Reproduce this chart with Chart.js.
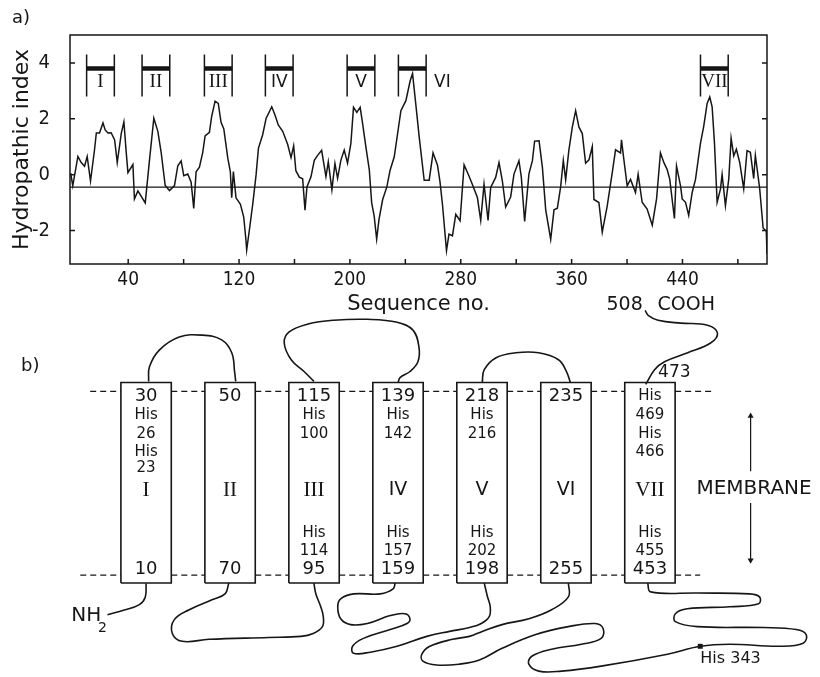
<!DOCTYPE html>
<html>
<head>
<meta charset="utf-8">
<script src="https://cdn.jsdelivr.net/npm/chart.js@4.4.1/dist/chart.umd.min.js"></script>
<style>
  html, body { margin: 0; padding: 0; background: #fff; }
  #wrap { position: relative; width: 820px; height: 677px; }
  #wrap canvas { position: absolute; left: 0; top: 0; }
</style>
</head>
<body>
<div id="wrap">
  <canvas id="plot" width="820" height="677"></canvas>
  <canvas id="model" width="820" height="677"></canvas>
</div>
<script>
// ---- a) hydropathy profile ----
var seqNo = [
  -1.5, 0, 3.7, 6.1, 8.5, 10.4, 12.8, 15.7, 17, 19.3,
  21.8, 23.4, 25.4, 27.7, 30.2, 32.1, 35, 36.9, 38.6, 39.8,
  43.4, 44.5, 47, 52.3, 55.4, 58.5, 61.4, 63.8, 66.7, 69.8,
  73.4, 75.8, 78.2, 80.1, 83, 85.4, 87.3, 89, 91.4, 93.8,
  95.5, 98.6, 100.3, 102.7, 105, 107, 109, 111.9, 113.7, 114.7,
  115.9, 117.8, 121, 123.4, 125, 125.5, 127.4, 129.9, 132.3, 134,
  137, 139.5, 143.6, 146, 148.3, 151.5, 155.1, 157.5, 159.4, 161,
  163.5, 165.9, 167.6, 169, 171.9, 174.3, 176.7, 179.6, 182.7, 184.4,
  187, 189.2, 191.1, 193.5, 195.9, 198.3, 200.7, 202.6, 205, 207.4,
  209.2, 211.5, 214, 215.7, 217.5, 219.3, 221, 223.6, 226.7, 229,
  232, 236.8, 240.4, 243.5, 245.2, 247.6, 250, 253.6, 257.2, 260,
  263.2, 265, 266.8, 269.7, 271.5, 274, 276.4, 279.5, 282.4, 286,
  288.4, 292, 294.4, 296.8, 299.7, 301.6, 305.2, 307.6, 310, 312.4,
  316, 318.4, 322, 323.7, 326.1, 329.2, 331.7, 333.3, 336.5, 338.9,
  341.3, 344.9, 347.3, 349.7, 352.1, 354, 355.7, 358, 360.5, 362.9,
  365.3, 367.7, 370.1, 372.5, 374.9, 376.1, 379.7, 382.1, 385.7, 389.3,
  391.7, 395.3, 396, 397.7, 400.1, 402.5, 406.1, 408, 410.9, 414.5,
  418.2, 421.3, 424.1, 426.6, 428.9, 430.8, 434.2, 435.7, 438.6, 439.8,
  442.2, 444.5, 447, 449.4, 453, 455.3, 457.8, 459.7, 461.4, 463.1,
  465, 467.4, 468.6, 471, 473.4, 475.1, 477, 478.9, 481.3, 484.2,
  486.6, 489, 491.4, 492.6, 495.7, 498.2, 500.5, 501
];
var hydro = [
  0.05, -0.4, 0.65, 0.43, 0.30, 0.65, -0.23, 0.89, 1.49, 1.49,
  1.85, 1.6, 1.49, 1.5, 1.24, 0.43, 1.48, 1.89, 0.79, 0.07,
  0.36, -0.87, -0.58, -1.01, 0.54, 2.02, 1.55, 0.79, -0.39, -0.57,
  -0.39, 0.32, 0.49, -0.04, 0.02, -0.27, -1.21, 0.10, 0.27, 0.80,
  1.39, 1.51, 2.1, 2.63, 2.55, 1.87, 1.64, 0.58, 0.11, -0.83,
  0.11, -0.83, -1.06, -1.53, -2.36, -2.70, -2.0, -1.05, 0.0, 0.95,
  1.42, 2.01, 2.43, 2.13, 1.78, 1.55, 1.08, 0.61, 1.03, 0.14,
  -0.09, -0.15, -1.27, -0.44, -0.08, 0.51, 0.69, 0.87, -0.07, 0.46,
  -0.54, 0.40, -0.13, 0.52, 0.88, 0.41, 1.12, 2.41, 2.23, 2.41,
  1.82, 1.0, 0.17, -1.01, -1.48, -2.31, -1.60, -0.90, -0.43, 0.16,
  0.64, 2.29, 2.65, 3.36, 3.62, 2.5, 1.35, -0.2, -0.2, 0.78,
  0.34, -0.25, -1.07, -2.72, -2.13, -2.19, -1.42, -1.65, 0.35, -0.06,
  -0.35, -0.82, -1.64, -0.34, -1.64, -0.46, -0.10, 0.43, -0.22, -1.16,
  -0.80, 0.02, 0.50, -0.09, -1.68, 0.03, 0.50, 1.20, 1.21, 0.27,
  -1.26, -2.32, -1.26, -1.20, -0.43, 0.51, -0.19, 0.87, 1.70, 2.29,
  1.70, 1.47, 0.41, 0.53, 1.0, -0.89, -1.0, -2.06, -1.12, 0.06,
  0.89, 0.78, 1.25, 0.54, -0.40, -0.17, -0.64, 0.01, -0.99, -1.23,
  -1.81, -0.87, 0.78, 0.43, 0.19, -0.16, -1.57, 0.31, -0.40, -0.87,
  -0.99, -1.46, -0.64, -0.17, 1.13, 1.72, 2.55, 2.78, 2.43, 1.13,
  -0.99, -0.52, 0.01, -1.11, -0.16, 1.31, 0.67, 0.91, 0.44, -0.50,
  0.86, 0.80, -0.14, 0.69, -0.49, -1.91, -2.03, -2.84
];
var meanIndex = -0.45;
var xTicks = [40, 80, 120, 160, 200, 240, 280, 320, 360, 400, 440, 480];
var xLabels = [40, 120, 200, 280, 360, 440];
var yTicks = [-2, 0, 2, 4];

// membrane spanning segments (I..VII)
var segName = ['I', 'II', 'III', 'IV', 'V', 'VI', 'VII'];
var segStart = [10, 50, 95, 139, 198, 235, 453];
var segEnd = [30, 70, 115, 159, 218, 255, 473];
var bracketTop = 4.3, bracketBottom = 2.8, bracketBar = 3.8, bracketLabel = 3.3;

// ---- b) topology model: helix i sits at x = i, membrane faces at y = 0 and y = 1 ----
var helixTop = [['30', 'His', '26', 'His', '23'], ['50'], ['115', 'His', '100'], ['139', 'His', '142'],
                ['218', 'His', '216'], ['235'], ['His', '469', 'His', '466']];
var helixBottom = [['10'], ['70'], ['His', '114', '95'], ['His', '157', '159'],
                   ['His', '202', '198'], ['255'], ['His', '455', '453']];
var loopN = [[-0.46, -0.215], [-0.26, -0.19], [-0.08, -0.16], [-0.01, -0.12], [0, -0.045]];
var loop1 = [[0.03, 1.054], [0.04, 1.134], [0.16, 1.226], [0.395, 1.296], [0.666, 1.306], [0.90, 1.28],
             [1.02, 1.21], [1.055, 1.102], [1.067, 1.054]];
var loop2 = [[0.985, -0.043], [0.94, -0.102], [0.784, -0.134], [0.513, -0.188], [0.336, -0.242],
             [0.3125, -0.317], [0.43, -0.36], [0.749, -0.349], [1.456, -0.339], [1.845, -0.333],
             [1.99, -0.317], [2.10, -0.28], [2.11, -0.226], [2.08, -0.172], [2.022, -0.102], [1.998, -0.043]];
var loop3 = [[1.999, 1.054], [1.881, 1.108], [1.728, 1.172], [1.645, 1.263], [1.704, 1.323], [1.928, 1.366],
             [2.235, 1.387], [2.635, 1.392], [2.989, 1.376], [3.178, 1.333], [3.249, 1.242], [3.237, 1.161],
             [3.142, 1.108], [3.024, 1.075], [3.001, 1.048]];
var loop4 = [[2.966, -0.043], [2.942, -0.075], [2.789, -0.102], [2.47, -0.102], [2.317, -0.129],
             [2.282, -0.172], [2.317, -0.237], [2.435, -0.269], [2.635, -0.263], [2.907, -0.22],
             [3.083, -0.21], [3.142, -0.237], [3.107, -0.263], [2.907, -0.296], [2.588, -0.344],
             [2.459, -0.387], [2.47, -0.425], [2.671, -0.419], [2.989, -0.387], [3.343, -0.333],
             [3.614, -0.306], [3.85, -0.285], [3.992, -0.263], [4.086, -0.226], [4.098, -0.172],
             [4.063, -0.113], [4.027, -0.043]];
var loop5 = [[4.003, 1.048], [4.027, 1.118], [4.168, 1.183], [4.404, 1.21], [4.675, 1.21], [4.911, 1.172],
             [5.006, 1.108], [5.053, 1.048]];
var loop6 = [[5.029, -0.043], [5.029, -0.118], [4.829, -0.188], [4.558, -0.237], [4.239, -0.269],
             [4.003, -0.306], [3.85, -0.333], [3.65, -0.349], [3.379, -0.387], [3.284, -0.43],
             [3.296, -0.468], [3.461, -0.489], [3.733, -0.484], [3.968, -0.462], [4.239, -0.398],
             [4.64, -0.323], [5.029, -0.28], [5.348, -0.263], [5.442, -0.29], [5.419, -0.344],
             [5.183, -0.376], [4.829, -0.403], [4.593, -0.441], [4.558, -0.484], [4.676, -0.522],
             [4.947, -0.522], [5.419, -0.495], [6.209, -0.43], [6.599, -0.387], [6.952, -0.376],
             [7.542, -0.387], [7.825, -0.371], [7.86, -0.323], [7.742, -0.296], [7.353, -0.285],
             [6.563, -0.28], [6.303, -0.253], [6.303, -0.21], [6.445, -0.183], [6.952, -0.172],
             [7.294, -0.156], [7.305, -0.118], [7.187, -0.102], [6.563, -0.097], [6.008, -0.091],
             [5.973, -0.043]];
var loopC = [[5.95, 1.038], [6.055, 1.118], [6.173, 1.161], [6.45, 1.21], [6.722, 1.263], [6.804, 1.317],
             [6.686, 1.36], [6.368, 1.371], [6.097, 1.387], [5.979, 1.414], [5.943, 1.441]];
var his343 = [6.599, -0.387];

var ink = '#161616';
var sans = "'DejaVu Sans', sans-serif";
var cond = "'DejaVu Sans Condensed', 'DejaVu Sans', sans-serif";
var serif = "'Liberation Serif', serif";

function pts(list) {
  return list.map(function(p) { return { x: p[0], y: p[1] }; });
}

// ---------------- a) ----------------
var xMin = -2, xMax = 501;
var profile = seqNo.map(function(s, i) { return { x: s, y: hydro[i] }; });
var bracketLegs = [], bracketBars = [];
segStart.forEach(function(s, i) {
  var e = segEnd[i];
  bracketLegs.push({ x: s, y: bracketTop }, { x: s, y: bracketBottom }, { x: s, y: null },
                   { x: e, y: bracketTop }, { x: e, y: bracketBottom }, { x: e, y: null });
  bracketBars.push({ x: s, y: bracketBar }, { x: e, y: bracketBar }, { x: e, y: null });
});

var plotFrame = {
  id: 'plotFrame',
  afterDatasetsDraw: function(chart) {
    var ctx = chart.ctx, a = chart.chartArea, x = chart.scales.x, y = chart.scales.y;
    ctx.save();
    ctx.strokeStyle = ink;
    ctx.lineWidth = 1.5;
    ctx.strokeRect(a.left, a.top, a.right - a.left, a.bottom - a.top);
    ctx.beginPath();
    xTicks.forEach(function(v) {
      var px = x.getPixelForValue(v);
      ctx.moveTo(px, a.bottom);
      ctx.lineTo(px, a.bottom - 5);
    });
    yTicks.forEach(function(v) {
      var py = y.getPixelForValue(v);
      ctx.moveTo(a.left, py); ctx.lineTo(a.left + 5, py);
      ctx.moveTo(a.right, py); ctx.lineTo(a.right - 5, py);
    });
    ctx.stroke();

    ctx.fillStyle = ink;
    ctx.textBaseline = 'middle';
    segName.forEach(function(n, i) {
      var serifName = (n === 'I' || n === 'II' || n === 'III' || n === 'VII');
      ctx.font = serifName ? '19px ' + serif : '17px ' + sans;
      var py = y.getPixelForValue(bracketLabel);
      if (n === 'VI') {
        ctx.textAlign = 'left';
        ctx.fillText(n, x.getPixelForValue(segEnd[i]) + 8, py);
      } else {
        ctx.textAlign = 'center';
        ctx.fillText(n, x.getPixelForValue((segStart[i] + segEnd[i]) / 2), py);
      }
    });
    ctx.font = '18px ' + sans;
    ctx.textAlign = 'left';
    ctx.fillText('a)', 12, 18);
    ctx.restore();
  }
};

new Chart(document.getElementById('plot'), {
  type: 'line',
  data: {
    datasets: [
      { data: profile, borderColor: ink, borderWidth: 1.5, pointRadius: 0, tension: 0 },
      { data: [{ x: xMin, y: meanIndex }, { x: xMax, y: meanIndex }], borderColor: ink, borderWidth: 1.3, pointRadius: 0 },
      { data: bracketLegs, borderColor: ink, borderWidth: 1.5, pointRadius: 0, spanGaps: false },
      { data: bracketBars, borderColor: ink, borderWidth: 4.5, pointRadius: 0, spanGaps: false, borderCapStyle: 'butt' }
    ]
  },
  options: {
    responsive: false,
    animation: false,
    events: [],
    layout: { padding: { left: 0, top: 35, right: 53, bottom: 360 } },
    plugins: { legend: { display: false }, tooltip: { enabled: false } },
    scales: {
      x: {
        type: 'linear', min: xMin, max: xMax,
        grid: { display: false }, border: { display: false },
        afterBuildTicks: function(s) { s.ticks = xTicks.map(function(v) { return { value: v }; }); },
        afterFit: function(s) { s.height = 53; },
        ticks: {
          autoSkip: false, maxRotation: 0, padding: 0, color: ink,
          font: { family: cond, size: 19, lineHeight: 0.8 },
          callback: function(v) { return xLabels.indexOf(v) >= 0 ? String(v) : ''; }
        },
        title: { display: true, text: 'Sequence no.', color: ink, padding: 0, font: { family: sans, size: 21 } }
      },
      y: {
        type: 'linear', min: -3.2, max: 5.0,
        grid: { display: false }, border: { display: false },
        afterBuildTicks: function(s) { s.ticks = yTicks.map(function(v) { return { value: v }; }); },
        afterFit: function(s) { s.width = 70; },
        ticks: { padding: 12, color: ink, font: { family: cond, size: 20 } },
        title: { display: true, text: 'Hydropathic index', color: ink, padding: { top: 9, bottom: 0 }, font: { family: sans, size: 22 } }
      }
    }
  },
  plugins: [plotFrame]
});

// ---------------- b) ----------------
var halfW = 0.3, boxTop = 1.048, boxBottom = -0.043;
var membraneStart = [-0.666, -0.784], membraneEnd = [6.74, 6.598];
var boxes = [];
segName.forEach(function(n, i) {
  boxes.push({ x: i - halfW, y: boxBottom }, { x: i - halfW, y: boxTop }, { x: i + halfW, y: boxTop },
             { x: i + halfW, y: boxBottom }, { x: i - halfW, y: boxBottom }, { x: i, y: null });
});
function membraneFace(level, from, to) {
  var out = [{ x: from, y: level }];
  segName.forEach(function(n, i) {
    out.push({ x: i - halfW, y: level }, { x: i, y: null }, { x: i + halfW, y: level });
  });
  out.push({ x: to, y: level });
  return out;
}
var arrowX = 7.199;

var topSlots = [0.973, 0.871, 0.769, 0.672, 0.581];
var bottomSlots = [0.032, 0.129, 0.231];

var modelText = {
  id: 'modelText',
  afterDatasetsDraw: function(chart) {
    var ctx = chart.ctx, x = chart.scales.x, y = chart.scales.y;
    function X(v) { return x.getPixelForValue(v); }
    function Y(v) { return y.getPixelForValue(v); }
    function fontFor(t, i) {
      var isEdge = t === String(segStart[i]) || t === String(segEnd[i]);
      return isEdge ? '18px ' + sans : '15px ' + sans;
    }
    ctx.save();
    ctx.fillStyle = ink;
    ctx.textAlign = 'center';
    ctx.textBaseline = 'middle';
    segName.forEach(function(n, i) {
      helixTop[i].forEach(function(t, j) {
        ctx.font = fontFor(t, i);
        ctx.fillText(t, X(i), Y(topSlots[j]));
      });
      var bl = helixBottom[i];
      bl.forEach(function(t, j) {
        ctx.font = fontFor(t, i);
        ctx.fillText(t, X(i), Y(bottomSlots[bl.length - 1 - j]));
      });
      var serifName = (n === 'I' || n === 'II' || n === 'III' || n === 'VII');
      ctx.font = serifName ? '21px ' + serif : '19px ' + sans;
      ctx.fillText(n, X(i), Y(0.462));
    });
    ctx.font = '20px ' + sans;
    ctx.fillText('MEMBRANE', X(7.24), Y(0.468));
    ctx.font = '17px ' + sans;
    ctx.fillText('473', X(6.29), Y(1.10));
    ctx.font = '19px ' + sans;
    ctx.textAlign = 'right';
    ctx.fillText('508', X(5.914), Y(1.468));
    ctx.textAlign = 'left';
    ctx.fillText('COOH', X(6.09), Y(1.468));
    ctx.font = '20px ' + sans;
    ctx.textAlign = 'center';
    ctx.fillText('NH', X(-0.713), Y(-0.22));
    ctx.font = '14px ' + sans;
    ctx.fillText('2', X(-0.52), Y(-0.29));
    ctx.font = '16px ' + sans;
    ctx.textAlign = 'left';
    ctx.fillText('His 343', X(6.60), Y(-0.457));
    ctx.font = '18px ' + sans;
    ctx.fillText('b)', X(-1.49), Y(1.134));
    ctx.restore();
  }
};

function loopSet(list) {
  return { data: pts(list), borderColor: ink, borderWidth: 1.6, pointRadius: 0, tension: 0.4 };
}

new Chart(document.getElementById('model'), {
  type: 'line',
  data: {
    datasets: [
      { data: membraneFace(1, membraneStart[0], membraneEnd[0]), borderColor: ink, borderWidth: 1.2,
        borderDash: [6, 4], pointRadius: 0, spanGaps: false },
      { data: membraneFace(0, membraneStart[1], membraneEnd[1]), borderColor: ink, borderWidth: 1.2,
        borderDash: [6, 4], pointRadius: 0, spanGaps: false },
      { data: boxes, borderColor: ink, borderWidth: 1.6, pointRadius: 0, spanGaps: false, borderJoinStyle: 'miter' },
      loopSet(loopN), loopSet(loop1), loopSet(loop2), loopSet(loop3), loopSet(loop4),
      loopSet(loop5), loopSet(loop6), loopSet(loopC),
      { data: [{ x: arrowX, y: 0.565 }, { x: arrowX, y: 0.866 }], borderColor: ink, borderWidth: 1.2,
        pointRadius: [0, 3.5], pointStyle: 'triangle', pointBackgroundColor: ink, pointBorderColor: ink, pointBorderWidth: 0 },
      { data: [{ x: arrowX, y: 0.392 }, { x: arrowX, y: 0.081 }], borderColor: ink, borderWidth: 1.2,
        pointRadius: [0, 3.5], pointStyle: 'triangle', pointRotation: 180, pointBackgroundColor: ink, pointBorderColor: ink, pointBorderWidth: 0 },
      { data: [{ x: his343[0], y: his343[1] }], showLine: false, pointStyle: 'rect', pointRadius: 3.5,
        pointBackgroundColor: ink, pointBorderColor: ink, pointBorderWidth: 0 }
    ]
  },
  options: {
    responsive: false,
    animation: false,
    events: [],
    layout: { padding: 0 },
    plugins: { legend: { display: false }, tooltip: { enabled: false } },
    scales: {
      x: { type: 'linear', min: -1.6922, max: 7.9776, display: false },
      y: { type: 'linear', min: -0.5323, max: 3.1075, display: false }
    }
  },
  plugins: [modelText]
});
</script>
</body>
</html>
